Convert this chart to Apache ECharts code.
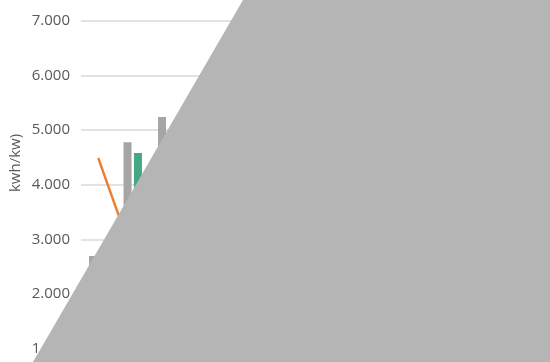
<!DOCTYPE html>
<html><head><meta charset="utf-8">
<script src="https://cdn.jsdelivr.net/npm/echarts@6/dist/echarts.min.js"></script>
<style>html,body{margin:0;padding:0;background:#fff}#c{width:550px;height:362px}</style>
</head><body><div id="c"></div>
<script>
const categories = ['Ene','Feb','Mar','Abr','May','Jun','Jul','Ago','Sep','Oct','Nov','Dic'];
const grayValues = [2.70, 4.78, 5.24, 5.60, 6.10, 6.40, 6.50, 6.20, 5.50, 4.40, 3.10, 2.50];
const greenValues = [2.50, 4.58, 4.90, 5.40, 5.90, 6.20, 6.30, 6.00, 5.30, 4.20, 2.90, 2.30];
const lineValues = [4.49, 2.72, 3.60, 4.20, 4.80, 5.10, 5.30, 5.00, 4.40, 3.80, 3.20, 3.00];
const yTicks = [1, 2, 3, 4, 5, 6, 7];
const yAxisName = 'kwh/kw)';

const chart = echarts.init(document.getElementById('c'), null, {renderer:'canvas'});
const font = 'Open Sans';
chart.setOption({
  animation: false,
  grid: {left: 81, width: 414, top: 20.7, height: 328.2, containLabel: false},
  xAxis: {type: 'category', data: categories, axisLine: {show: false}, axisTick: {show: false},
          axisLabel: {show: false}},
  yAxis: {type: 'value', min: yTicks[0], max: yTicks[yTicks.length-1], interval: 1,
          axisLine: {show: false}, axisTick: {show: false},
          splitLine: {lineStyle: {color: '#d9d9d9', width: 1.5}},
          axisLabel: {margin: 11, color: '#595959', fontFamily: font, fontSize: 15,
                      formatter: v => v.toFixed(3)}},
  series: [
    {type: 'bar', data: grayValues, barWidth: 8, barGap: '30%', itemStyle: {color: '#a5a5a5'}},
    {type: 'bar', data: greenValues, barWidth: 8, itemStyle: {color: '#46a882'}},
    {type: 'line', data: lineValues, symbol: 'none', lineStyle: {color: '#ed7d31', width: 2.4}, itemStyle: {color: '#ed7d31'}}
  ],
  graphic: [
    {type: 'text', rotation: Math.PI/2, x: 15.5, y: 163,
     style: {text: yAxisName, fill: '#595959', font: '15px ' + font, textAlign: 'center', textVerticalAlign: 'middle'}},
    {type: 'polygon', z: 100, shape: {points: [[243,0],[550,0],[550,362],[33,362]]}, style: {fill: '#b5b5b5'}}
  ]
});
</script></body></html>
